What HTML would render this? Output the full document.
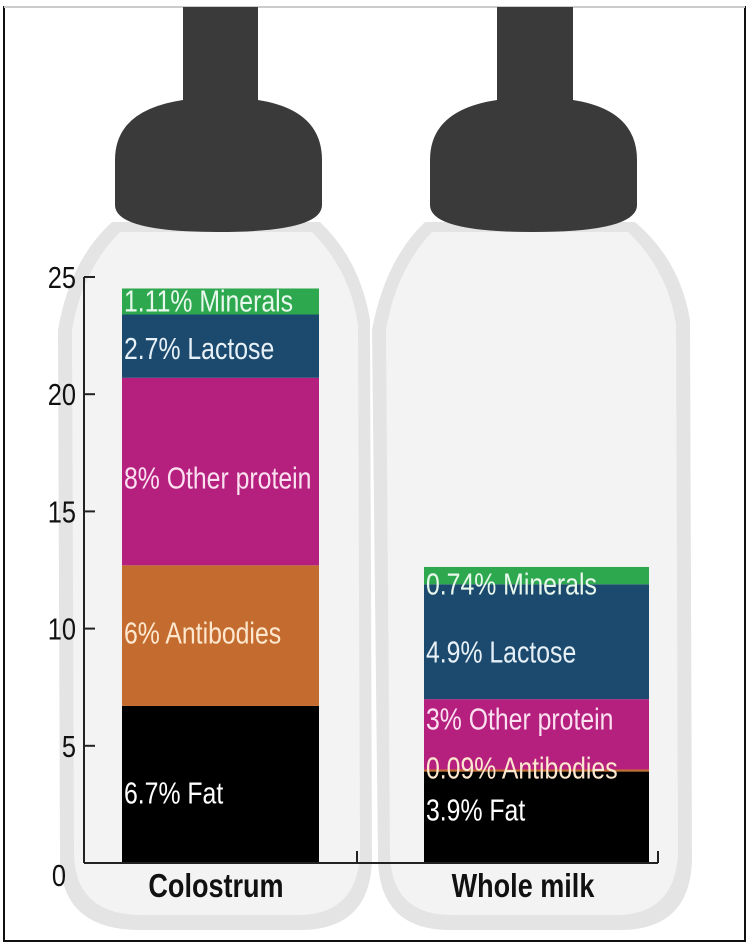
<!DOCTYPE html>
<html><head><meta charset="utf-8"><style>
html,body{margin:0;padding:0;background:#fff;}
svg{display:block;}
text{font-family:"Liberation Sans",sans-serif;}
</style></head><body>
<svg id="chart" width="750" height="952" viewBox="0 0 750 952" xmlns="http://www.w3.org/2000/svg">
  <rect x="4" y="7" width="741" height="934" fill="#fff" stroke="#111" stroke-width="2"/>
  <line x1="4" y1="7" x2="745" y2="7" stroke="#ccc" stroke-width="2"/>
  <g>
    <path d="M112,222 L320,222 Q360,260 370,320 L372,860 Q370,930 300,930 L140,930 Q62,930 60,860 L58,330 Q70,260 112,222 Z" fill="#e4e4e4"/>
    <path d="M120,232 L312,232 Q350,270 358,325 L360,855 Q356,915 298,915 L142,915 Q76,915 74,855 L72,330 Q82,270 120,232 Z" fill="#f3f3f3"/>
    <path d="M183,7 L258,7 L258,100 Q322,110 322,160 L322,205 Q322,232 218,232 Q115,232 115,205 L115,160 Q115,110 183,100 Z" fill="#3a3a3a"/>
  </g>
  <g>
    <path d="M425,222 L635,222 Q680,260 690,320 L692,860 Q690,930 620,930 L450,930 Q380,930 378,860 L372,330 Q385,260 425,222 Z" fill="#e4e4e4"/>
    <path d="M432,232 L628,232 Q668,270 676,325 L678,855 Q674,915 616,915 L452,915 Q392,915 390,855 L386,330 Q396,270 432,232 Z" fill="#f3f3f3"/>
    <path d="M497,7 L573,7 L573,100 Q637,110 637,160 L637,205 Q637,232 533,232 Q430,232 430,205 L430,160 Q430,110 497,100 Z" fill="#3a3a3a"/>
  </g>
  <g id="bars"></g>
  <g id="axes"></g>
</svg>
<script>
const categories = ["Colostrum", "Whole milk"];
const segmentNames = ["Fat", "Antibodies", "Other protein", "Lactose", "Minerals"];
const colostrumValues = [6.7, 6, 8, 2.7, 1.11];
const wholeMilkValues = [3.9, 0.09, 3, 4.9, 0.74];
const colostrumLabels = ["6.7% Fat", "6% Antibodies", "8% Other protein", "2.7% Lactose", "1.11% Minerals"];
const wholeMilkLabels = ["3.9% Fat", "0.09% Antibodies", "3% Other protein", "4.9% Lactose", "0.74% Minerals"];
const yTicks = [0, 5, 10, 15, 20, 25];

const colors = ["#000000", "#c46c2f", "#b5207f", "#1c4a6e", "#2ea84e"];
const textColors = ["#fff", "#fde8cf", "#fbe0f0", "#e6f0f6", "#e8f8ec"];
const barX = [122, 424], barW = [197, 225];
const labelDy = [[19, 8, 17, 13, 10], [3, 8, -5, 21, 19]];
const NS = "http://www.w3.org/2000/svg";
const y = v => 863 - v * (863 - 277) / 25;
const seriesVals = [colostrumValues, wholeMilkValues];
const seriesLabels = [colostrumLabels, wholeMilkLabels];
const bars = document.getElementById("bars");
const axes = document.getElementById("axes");

function mk(tag, attrs) { const e = document.createElementNS(NS, tag); for (const k in attrs) e.setAttribute(k, attrs[k]); return e; }

categories.forEach((c, ci) => {
  let cum = 0;
  seriesVals[ci].forEach((v, si) => {
    const y0 = y(cum), y1 = y(cum + v);
    const r = mk("rect", { x: barX[ci], y: y1, width: barW[ci], height: y0 - y1, fill: colors[si] });
    
    
    bars.appendChild(r);
    cum += v;
  });
  cum = 0;
  seriesVals[ci].forEach((v, si) => {
    const mid = (y(cum) + y(cum + v)) / 2 + labelDy[ci][si];
    const t = mk("text", { transform: "translate(" + (barX[ci] + 2) + "," + mid + ") scale(0.8,1)", "font-size": 31, fill: textColors[si] });
    t.textContent = seriesLabels[ci][si];
    
    
    bars.appendChild(t);
    cum += v;
  });
  const cl = mk("text", { transform: "translate(" + (ci === 0 ? 216 : 523) + ",897) scale(0.82,1)", "font-size": 33, "font-weight": "bold", "text-anchor": "middle", fill: "#111" });
  cl.textContent = c;
  
  
  axes.appendChild(cl);
});

const yAxis = mk("line", { x1: 84, y1: y(25), x2: 84, y2: y(0), stroke: "#222", "stroke-width": 2 });


axes.appendChild(yAxis);
const xAxis = mk("line", { x1: 84, y1: 863, x2: 658, y2: 863, stroke: "#222", "stroke-width": 2 });


axes.appendChild(xAxis);
[357, 658].forEach(x => {
  const tk = mk("line", { x1: x, y1: 851, x2: x, y2: 863, stroke: "#222", "stroke-width": 2 });
  
  
  axes.appendChild(tk);
});
yTicks.forEach(v => {
  if (v > 0) {
    const tk = mk("line", { x1: 84, y1: y(v), x2: 95, y2: y(v), stroke: "#222", "stroke-width": 2 });
    
    
    axes.appendChild(tk);
  }
  const t = mk("text", { transform: "translate(" + (v === 0 ? 66 : 76) + "," + (y(v) + 11 + (v === 0 ? 12 : 0)) + ") scale(0.82,1)", "font-size": 31, "text-anchor": "end", fill: "#111" });
  t.textContent = v;
  
  
  axes.appendChild(t);
});
</script>
</body></html>
